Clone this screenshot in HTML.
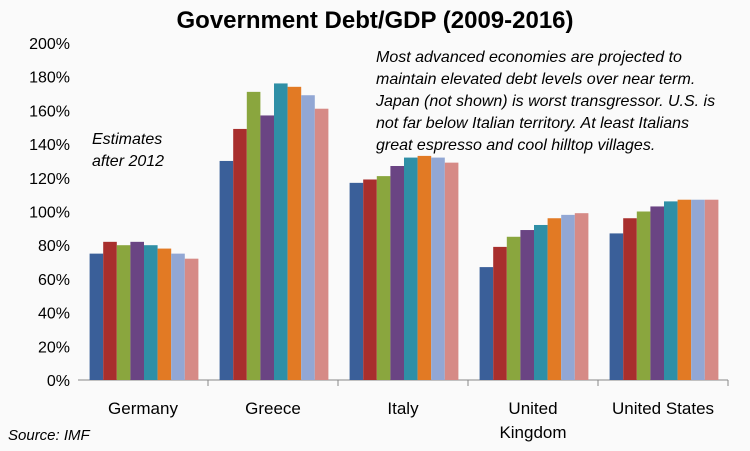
<!DOCTYPE html>
<html><head><meta charset="utf-8"><style>
body{margin:0;background:#fbfbfb;font-family:"Liberation Sans",sans-serif}
svg{display:block}
</style></head><body>
<svg id="c" width="750" height="451">
<rect width="750" height="451" fill="#fafafa"/>
<text x="375" y="28" text-anchor="middle" font-size="24" font-weight="bold" fill="#000">Government Debt/GDP (2009-2016)</text>
<text x="92" y="144" font-size="16" font-style="italic" fill="#000"><tspan x="92">Estimates</tspan><tspan x="92" dy="22">after 2012</tspan></text>
<text font-size="16" font-style="italic" fill="#000">
<tspan x="376" y="62">Most advanced economies are projected to</tspan>
<tspan x="376" y="84">maintain elevated debt levels over near term.</tspan>
<tspan x="376" y="106">Japan (not shown) is worst transgressor. U.S. is</tspan>
<tspan x="376" y="128">not far below  Italian territory. At least Italians</tspan>
<tspan x="376" y="150">great espresso and cool hilltop villages.</tspan>
</text>
<text x="8" y="440" font-size="15" font-style="italic" fill="#000">Source: IMF</text>
<g id="plot"></g>
</svg>
<script>
const categories=["Germany","Greece","Italy","United|Kingdom","United States"];
const years=["2009","2010","2011","2012","2013","2014","2015","2016"];
const colors=["#3a5f99","#a82f2d","#8aa63e","#6a4483","#2f8fa6","#e27a24","#92a7d4","#d68a86"];
const germany=[75,82,80,82,80,78,75,72];
const greece=[130,149,171,157,176,174,169,161];
const italy=[117,119,121,127,132,133,132,129];
const uk=[67,79,85,89,92,96,98,99];
const us=[87,96,100,103,106,107,107,107];
const series=[germany,greece,italy,uk,us];
const yTicks=[0,20,40,60,80,100,120,140,160,180,200];
const NS="http://www.w3.org/2000/svg";
const g=document.getElementById('plot');
const x0=78,cw=130,y0=380,yMax=200,yTop=43;
const y=v=>y0-(v/yMax)*(y0-yTop);
function mk(t,a){const e=document.createElementNS(NS,t);for(const k in a)e.setAttribute(k,a[k]);g.appendChild(e);return e;}
yTicks.forEach(v=>{const t=mk('text',{x:70,y:y(v)+6,'text-anchor':'end','font-size':16,fill:'#000'});t.textContent=v+'%';

});
const ax=mk('line',{x1:x0,x2:x0+cw*5,y1:y0,y2:y0,stroke:'#888','stroke-width':1});


for(let i=1;i<=5;i++){const tk=mk('line',{x1:x0+cw*i,x2:x0+cw*i,y1:y0,y2:y0+6,stroke:'#888'});

}
const bw=13.6,pad=(cw-bw*8)/2+1;
categories.forEach((c,ci)=>{
 series[ci].forEach((v,j)=>{
  const r=mk('rect',{x:x0+ci*cw+pad+j*bw,y:y(v),width:bw,height:y0-y(v),fill:colors[j]});
  
  
 });
 const parts=c.split('|');
 parts.forEach((p,k)=>{const t=mk('text',{x:x0+ci*cw+cw/2,y:414+k*24,'text-anchor':'middle','font-size':17,fill:'#000'});t.textContent=p;
 
 });
});
</script>
</body></html>
